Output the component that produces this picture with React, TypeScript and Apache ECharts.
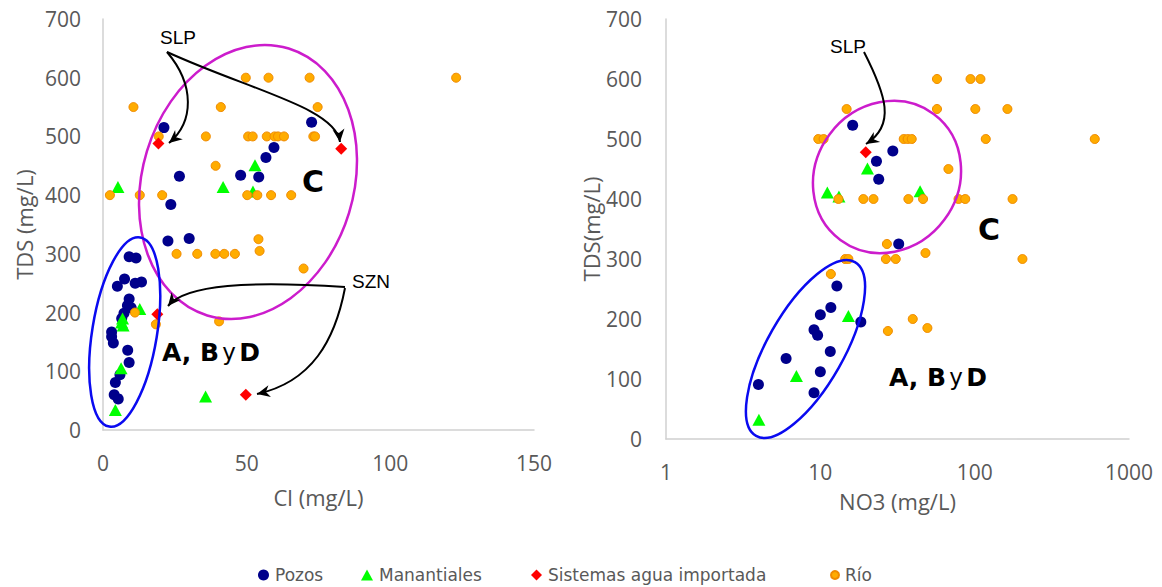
import React, { useEffect, useRef } from "react";
import * as echarts from "echarts";

// ---------- DATA ----------
// Left chart: [Cl (mg/L), TDS (mg/L)]
const clPozos = [
  [21.2, 515], [72.6, 524], [59.5, 481], [56.7, 464], [47.9, 434], [54.2, 431], [26.6, 432],
  [23.6, 384], [22.6, 322], [30, 326], [9.1, 295], [11.5, 293], [7.5, 257], [5, 245],
  [11.2, 250], [13.4, 252], [9.1, 223], [8.5, 212], [9.8, 208], [7.3, 199], [6.5, 190],
  [3, 167], [3, 159], [3.6, 148], [8.6, 136], [9.1, 115], [5.9, 94], [4.3, 81], [3.9, 60], [5.3, 53],
];
const clManantiales = [
  [5.2, 414], [41.8, 414], [52.9, 451], [52.2, 406], [12.8, 206], [6.8, 190], [6.5, 183],
  [7, 178], [6.3, 105], [4.3, 34], [35.7, 57],
];
const clSistemas = [[19.3, 488], [82.9, 479], [18.9, 197], [49.7, 60]];
const clRio = [
  [122.9, 600], [49.7, 600], [57.6, 600], [71.9, 600],
  [10.6, 550], [41, 550], [74.7, 550],
  [19.4, 500], [35.8, 500], [50.5, 500], [52.1, 500], [57, 500], [59.7, 500], [60.9, 500], [63, 500], [73.2, 500], [73.8, 500],
  [39.2, 450],
  [2.4, 400], [12.8, 400], [20.6, 400], [50.2, 400], [53.7, 400], [58.5, 400], [65.5, 400],
  [54.1, 325], [54.5, 305],
  [25.6, 300], [32.8, 300], [39.1, 300], [42.2, 300], [45.9, 300],
  [69.8, 275],
  [11.1, 200], [18.4, 180], [40.4, 185],
];

// Right chart: [NO3 (mg/L), TDS (mg/L)]
const no3Pozos = [
  [16.2, 523], [29.5, 480], [23.1, 463], [23.9, 433], [32.2, 325], [12.8, 255], [11.7, 219],
  [10, 207], [9.1, 182], [9.6, 173], [18.3, 195], [11.6, 146], [6, 134], [10, 112], [3.97, 91], [9.1, 77],
];
const no3Manantiales = [[20.2, 451], [11.1, 411], [13.2, 404], [44.3, 413], [15.2, 205], [7, 105], [4, 32]];
const no3Sistemas = [[19.7, 478]];
const no3Rio = [
  [57, 600], [94, 600], [109, 600],
  [14.8, 550], [57, 550], [101, 550], [163, 550],
  [9.7, 500], [10.5, 500], [34.7, 500], [36.8, 500], [39.1, 500], [118, 500], [600, 500],
  [67.6, 450],
  [13.1, 400], [19, 400], [22.1, 400], [37.2, 400], [46.3, 400], [78.6, 400], [86.9, 400], [176, 400],
  [27, 325], [48, 310],
  [14.5, 300], [15.2, 300], [26.6, 300], [30.8, 300], [204, 300],
  [11.7, 275],
  [39.7, 200], [27.4, 180], [49.4, 185],
];

const seriesNames = ["Pozos", "Manantiales", "Sistemas agua importada", "Río"];
const yTicks = { min: 0, max: 700, interval: 100 };
const clTicks = { min: 0, max: 150, interval: 50 };
const no3Ticks = { min: 1, max: 1000 };

// ---------- STYLE ----------
const GREY = "#595959";
const AXIS = "#d0d0d0";
const MAGENTA = "#cc1ccc";
const BLUE = "#0a0af0";
const legendLefts = [258, 361, 531, 830];

function arrowHead(tipX: number, tipY: number, fromX: number, fromY: number, len = 13, wid = 6) {
  const dx = tipX - fromX, dy = tipY - fromY;
  const L = Math.hypot(dx, dy);
  const ux = dx / L, uy = dy / L;
  const px = -uy, py = ux;
  const bx = tipX - ux * len, by = tipY - uy * len;
  const nx = tipX - ux * len * 0.7, ny = tipY - uy * len * 0.7;
  return [[tipX, tipY], [bx + px * wid, by + py * wid], [nx, ny], [bx - px * wid, by - py * wid]];
}

function curvedArrow(p0: number[], c1: number[], c2: number[], tip: number[]) {
  return [
    {
      type: "bezierCurve",
      shape: { x1: p0[0], y1: p0[1], cpx1: c1[0], cpy1: c1[1], cpx2: c2[0], cpy2: c2[1], x2: tip[0], y2: tip[1] },
      style: { stroke: "#000", lineWidth: 2, fill: "none" },
      z: 100,
    },
    {
      type: "polygon",
      shape: { points: arrowHead(tip[0], tip[1], c2[0], c2[1]) },
      style: { fill: "#000" },
      z: 101,
    },
  ];
}

function ellipse(cx: number, cy: number, rx: number, ry: number, deg: number, color: string) {
  return {
    type: "ellipse",
    x: cx,
    y: cy,
    rotation: (deg * Math.PI) / 180,
    shape: { cx: 0, cy: 0, rx, ry },
    style: { fill: "none", stroke: color, lineWidth: 2.5 },
    z: 90,
  };
}

function label(x: number, y: number, text: string, size = 19) {
  return {
    type: "text",
    x,
    y,
    style: { text, fontSize: size, fontFamily: "Liberation Sans", fill: "#000", align: "center", verticalAlign: "middle" },
    z: 102,
  };
}

function groupLabel(x: number, y: number) {
  return {
    type: "text",
    x,
    y,
    style: {
      text: "{b|A, B} {n|y} {b|D}",
      align: "center",
      verticalAlign: "middle",
      fill: "#000",
      rich: {
        b: { fontSize: 25, fontWeight: "bold", fontFamily: "DejaVu Sans", fill: "#000" },
        n: { fontSize: 23, fontFamily: "DejaVu Sans", fill: "#000" },
      },
    },
    z: 102,
  };
}

function bigC(x: number, y: number) {
  return {
    type: "text",
    x,
    y,
    style: { text: "C", fontSize: 30, fontWeight: "bold", fontFamily: "DejaVu Sans", fill: "#000", align: "center", verticalAlign: "middle" },
    z: 102,
  };
}

const commonSeries = (name: string, data: number[][], idx: number) => {
  const base: any = { name, type: "scatter", data, xAxisIndex: idx, yAxisIndex: idx };
  if (name === "Pozos") {
    Object.assign(base, { symbol: "circle", symbolSize: 11, itemStyle: { color: "#00008b", opacity: 1 }, z: 2 });
  } else if (name === "Manantiales") {
    Object.assign(base, { symbol: "triangle", symbolSize: [13, 12], itemStyle: { color: "#00ff00", opacity: 1 }, z: 3 });
  } else if (name === "Río") {
    Object.assign(base, { symbol: "circle", symbolSize: 9, itemStyle: { color: "#ffac00", borderColor: "#f08a00", borderWidth: 1, opacity: 1 }, z: 4 });
  } else {
    Object.assign(base, { symbol: "diamond", symbolSize: 12, itemStyle: { color: "#ff0000", opacity: 1 }, z: 5 });
  }
  return base;
};

const legendIconSize = [[11, 11], [12, 11], [11, 11], [8, 8]];

export default function App() {
  const ref = useRef<HTMLDivElement>(null);
  useEffect(() => {
    if (!ref.current) return;
    const chart = echarts.init(ref.current, undefined, { renderer: "svg" });
    const axisLabel = { color: GREY, fontSize: 21, fontFamily: "Open Sans" };
    const nameStyle = { color: GREY, fontSize: 22, fontFamily: "Open Sans" };
    const axisLine = { show: true, lineStyle: { color: AXIS, width: 1.5 } };
    const option: any = {
      animation: false,
      textStyle: { fontFamily: "Open Sans" },
      grid: [
        { left: 103, top: 19, width: 431, height: 411 },
        { left: 666, top: 19, width: 463, height: 420 },
      ],
      xAxis: [
        {
          gridIndex: 0, type: "value", ...clTicks,
          axisLine, axisTick: { show: false }, splitLine: { show: false },
          axisLabel: { ...axisLabel, margin: 22 },
          name: "Cl (mg/L)", nameLocation: "middle", nameGap: 56, nameTextStyle: nameStyle,
        },
        {
          gridIndex: 1, type: "log", logBase: 10, ...no3Ticks,
          axisLine, axisTick: { show: false }, splitLine: { show: false }, minorSplitLine: { show: false },
          axisLabel: { ...axisLabel, margin: 22, formatter: (v: number) => String(Math.round(v)) },
          name: "NO3 (mg/L)", nameLocation: "middle", nameGap: 51, nameTextStyle: nameStyle,
        },
      ],
      yAxis: [
        {
          gridIndex: 0, type: "value", ...yTicks,
          axisLine, axisTick: { show: false }, splitLine: { show: false },
          axisLabel: { ...axisLabel, margin: 22 },
          name: "TDS (mg/L)", nameLocation: "middle", nameGap: 68, nameTextStyle: nameStyle,
        },
        {
          gridIndex: 1, type: "value", ...yTicks,
          axisLine, axisTick: { show: false }, splitLine: { show: false },
          axisLabel: { ...axisLabel, margin: 24 },
          name: "TDS(mg/L)", nameLocation: "middle", nameGap: 57, nameTextStyle: nameStyle,
        },
      ],
      legend: seriesNames.map((n, i) => ({
        left: legendLefts[i],
        top: 564,
        itemWidth: legendIconSize[i][0],
        itemHeight: legendIconSize[i][1],
        itemGap: 4,
        padding: 0,
        textStyle: { color: GREY, fontSize: 17, fontFamily: "DejaVu Sans", lineHeight: 22, padding: [0, 0, 0, 1] },
        data: [n],
      })),
      series: [
        commonSeries("Pozos", clPozos, 0),
        commonSeries("Manantiales", clManantiales, 0),
        commonSeries("Río", clRio, 0),
        commonSeries("Sistemas agua importada", clSistemas, 0),
        commonSeries("Pozos", no3Pozos, 1),
        commonSeries("Manantiales", no3Manantiales, 1),
        commonSeries("Río", no3Rio, 1),
        commonSeries("Sistemas agua importada", no3Sistemas, 1),
      ],
      graphic: [
        ellipse(248, 182, 105.7, 139.6, -17, MAGENTA),
        ellipse(124.7, 332, 32.4, 95.8, -9.25, BLUE),
        ellipse(887, 177, 71.5, 78.4, -36.5, MAGENTA),
        ellipse(805.5, 349, 38.2, 100, -29.6, BLUE),
        ...curvedArrow([167, 52], [195, 85], [194, 122], [169, 143]),
        ...curvedArrow([167, 52], [250, 90], [336, 108], [340, 142]),
        ...curvedArrow([345, 287], [250, 281], [186, 284], [168, 306]),
        ...curvedArrow([345, 288], [335, 340], [312, 382], [257, 394]),
        ...curvedArrow([864, 52], [886, 95], [896, 125], [866, 144]),
        label(178, 37, "SLP"),
        label(371, 281, "SZN"),
        label(848, 46, "SLP"),
        groupLabel(211, 352),
        groupLabel(938, 377),
        bigC(313, 181),
        bigC(989, 229),
      ],
    };
    chart.setOption(option);
    return () => chart.dispose();
  }, []);
  return <div ref={ref} style={{ position: "absolute", left: 0, top: 0, width: 1162, height: 587 }} />;
}
